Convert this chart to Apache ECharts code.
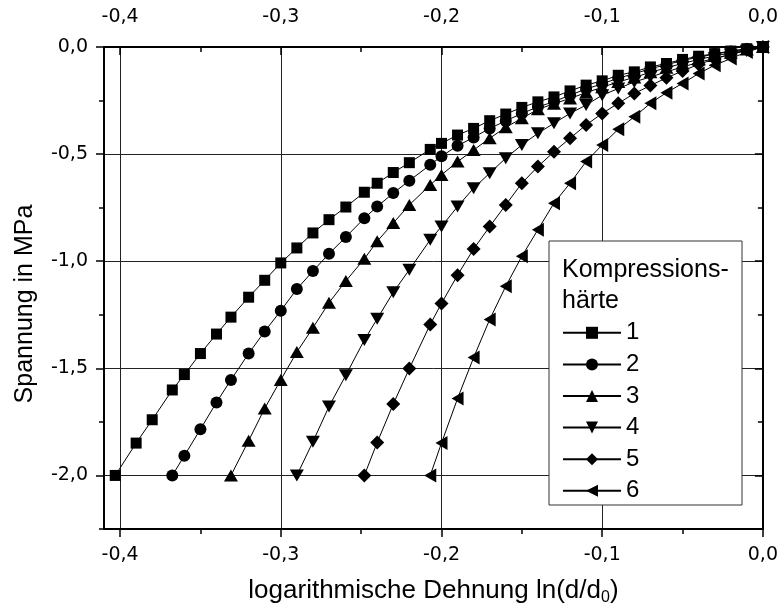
<!DOCTYPE html>
<html>
<head>
<meta charset="utf-8">
<script src="https://cdn.jsdelivr.net/npm/echarts@6/dist/echarts.min.js"></script>
<style>
html,body{margin:0;padding:0;background:#fff;}
#chart{width:781px;height:611px;}
</style>
</head>
<body>
<div id="chart"></div>
<script>
// shared strain grid (logarithmische Dehnung)
const strain = [-0.403,-0.390,-0.380,-0.3675,-0.360,-0.350,-0.340,-0.331,-0.320,-0.310,
  -0.300,-0.290,-0.280,-0.270,-0.2595,-0.248,-0.240,-0.230,-0.220,-0.207,
  -0.200,-0.190,-0.180,-0.170,-0.160,-0.150,-0.140,-0.130,-0.120,-0.110,
  -0.100,-0.090,-0.080,-0.070,-0.060,-0.050,-0.040,-0.030,-0.020,-0.010,0];
// stress values (MPa) for each Kompressionshärte, aligned to the right end of strain
const stress1 = [-2.0,-1.849,-1.740,-1.601,-1.529,-1.431,-1.340,-1.261,-1.168,-1.089,
  -1.008,-0.938,-0.868,-0.806,-0.747,-0.678,-0.636,-0.586,-0.540,-0.478,
  -0.450,-0.411,-0.380,-0.344,-0.313,-0.282,-0.256,-0.233,-0.205,-0.178,
  -0.158,-0.132,-0.116,-0.093,-0.077,-0.058,-0.043,-0.031,-0.019,-0.008,0];
const stress2 = [-2.0,-1.908,-1.784,-1.659,-1.554,-1.431,-1.328,-1.231,-1.130,-1.046,
  -0.965,-0.887,-0.799,-0.745,-0.682,-0.624,-0.550,-0.510,-0.461,-0.422,
  -0.380,-0.345,-0.310,-0.280,-0.255,-0.225,-0.196,-0.172,-0.145,-0.125,
  -0.101,-0.083,-0.063,-0.047,-0.033,-0.021,-0.009,0];
const stress3 = [-2.0,-1.838,-1.687,-1.554,-1.424,-1.311,-1.194,-1.092,-0.989,-0.907,
  -0.822,-0.737,-0.644,-0.597,-0.535,-0.481,-0.426,-0.375,-0.333,-0.291,
  -0.265,-0.240,-0.213,-0.188,-0.163,-0.142,-0.118,-0.097,-0.077,-0.058,
  -0.042,-0.027,-0.012,0];
const stress4 = [-2.0,-1.843,-1.678,-1.532,-1.368,-1.269,-1.145,-1.040,-0.900,-0.838,
  -0.745,-0.659,-0.589,-0.519,-0.457,-0.403,-0.356,-0.310,-0.271,-0.225,
  -0.194,-0.163,-0.140,-0.116,-0.093,-0.072,-0.053,-0.035,-0.017,0];
const stress5 = [-2.0,-1.846,-1.667,-1.501,-1.295,-1.197,-1.065,-0.943,-0.838,-0.737,
  -0.636,-0.558,-0.489,-0.426,-0.364,-0.310,-0.263,-0.217,-0.180,-0.144,
  -0.112,-0.081,-0.056,-0.033,-0.013,0];
const stress6 = [-2.0,-1.849,-1.641,-1.450,-1.272,-1.117,-0.977,-0.853,-0.729,-0.636,
  -0.535,-0.457,-0.384,-0.326,-0.263,-0.213,-0.170,-0.124,-0.085,-0.054,
  -0.023,0];
const seriesNames = ['1','2','3','4','5','6'];
const xMajor = [-0.4,-0.3,-0.2,-0.1,0];
const xMinor = [-0.35,-0.25,-0.15,-0.05];
const yMajor = [-2,-1.5,-1,-0.5,0];
const yMinor = [-2.25,-1.75,-1.25,-0.75,-0.25];

function pairs(ys){
  const off = strain.length - ys.length;
  return ys.map((y,i)=>[strain[off+i], y]);
}
const fmt = v => Number(v).toFixed(1).replace('.', ',');
const labelFont = {fontFamily:'DejaVu Sans', fontSize:19, color:'#000'};
const lineCol = '#000';

function xAx(pos, major, extra){
  return Object.assign({
    type:'value', position:pos, min:-0.41, max:0, gridIndex:0,
    axisLine:{show:major, onZero:false, lineStyle:{color:lineCol, width:2}},
    axisTick:{show:true, inside:pos==='top', length:major?8:5,
      customValues: major?xMajor:xMinor, lineStyle:{color:lineCol, width:1.5}},
    axisLabel:{show:false},
    splitLine:{show:false}
  }, extra||{});
}
function yAx(pos, major, extra){
  return Object.assign({
    type:'value', position:pos, min:-2.25, max:0, gridIndex:0,
    axisLine:{show:major, onZero:false, lineStyle:{color:lineCol, width:2}},
    axisTick:{show:true, inside:pos==='right', length:major?8:5,
      customValues: major?yMajor:yMinor, lineStyle:{color:lineCol, width:1.5}},
    axisLabel:{show:false},
    splitLine:{show:false}
  }, extra||{});
}

const symbols = [
  {symbol:'rect', size:11, rot:0},
  {symbol:'circle', size:12, rot:0},
  {symbol:'triangle', size:[14,12], rot:0},
  {symbol:'triangle', size:[14,12], rot:180},
  {symbol:'diamond', size:14, rot:0},
  {symbol:'triangle', size:[14,12], rot:90}
];
const allStress = [stress1,stress2,stress3,stress4,stress5,stress6];

const series = allStress.map((ys,i)=>({
  name: seriesNames[i],
  type:'line',
  xAxisIndex:0, yAxisIndex:0,
  data: pairs(ys),
  symbol: symbols[i].symbol,
  symbolSize: symbols[i].size,
  symbolRotate: symbols[i].rot,
  showAllSymbol:true,
  lineStyle:{color:'#000', width:1},
  itemStyle:{color:'#000', borderWidth:0},
  emphasis:{disabled:true},
  z: 2
}));

const chart = echarts.init(document.getElementById('chart'), null, {renderer:'canvas'});
chart.setOption({
  animation:false,
  backgroundColor:'#fff',
  grid:{left:104, right:18, top:47, bottom:80, containLabel:false},
  xAxis:[
    xAx('bottom', true, {
      axisLabel:{show:true, customValues:xMajor, formatter:fmt, margin:17, ...labelFont},
      splitLine:{show:true, lineStyle:{color:'#222', width:1}},
      name:'{a|logarithmische Dehnung ln(d/d}{s|0}{a|)}',
      nameLocation:'middle', nameGap:47,
      nameTextStyle:{rich:{
        a:{fontFamily:'Liberation Sans', fontSize:26, lineHeight:30, color:'#000'},
        s:{fontFamily:'Liberation Sans', fontSize:16, lineHeight:12, verticalAlign:'bottom', color:'#000'}
      }}
    }),
    xAx('bottom', false),
    xAx('top', true, {
      axisLabel:{show:true, customValues:xMajor, formatter:fmt, margin:20, ...labelFont}
    }),
    xAx('top', false)
  ],
  yAxis:[
    yAx('left', true, {
      axisLabel:{show:true, customValues:yMajor, formatter:fmt, margin:16, ...labelFont},
      splitLine:{show:true, lineStyle:{color:'#222', width:1}},
      name:'Spannung in MPa', nameLocation:'middle', nameRotate:90, nameGap:66,
      nameTextStyle:{fontFamily:'Liberation Sans', fontSize:25, color:'#000', padding:[0,32,0,0]}
    }),
    yAx('left', false),
    yAx('right', true),
    yAx('right', false)
  ],
  legend:{
    orient:'vertical', left:562, top:317, padding:0, itemGap:0,
    itemWidth:58, itemHeight:15,
    data: seriesNames,
    textStyle:{fontFamily:'Liberation Sans', fontSize:24, color:'#000', lineHeight:31.6},
    inactiveColor:'#000',
    selectedMode:false,
    z:6
  },
  graphic:[
    {type:'rect', z:5, shape:{x:549, y:241, width:193, height:264},
     style:{fill:'#fff', stroke:'#333', lineWidth:1}},
    {type:'text', z:6, left:562, top:254,
     style:{text:'Kompressions-\nhärte', fontFamily:'Liberation Sans', fontSize:25,
       lineHeight:31.6, fill:'#000'}}
  ],
  series: series
});
</script>
</body>
</html>
